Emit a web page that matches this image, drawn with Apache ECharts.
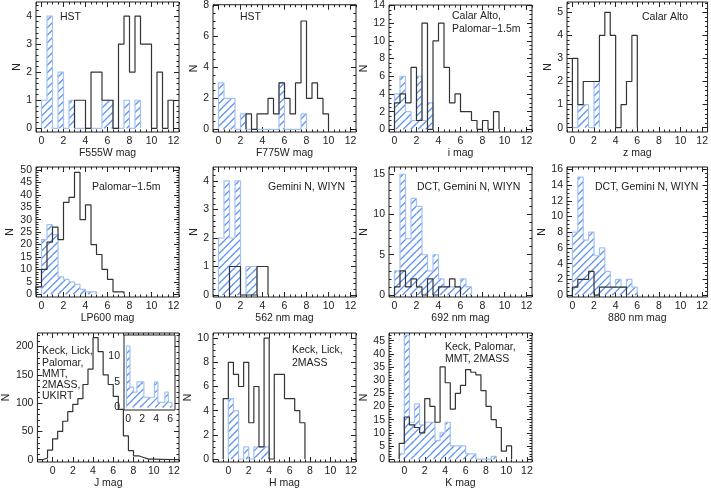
<!DOCTYPE html>
<html>
<head>
<meta charset="utf-8">
<script src="https://cdn.jsdelivr.net/npm/echarts@6/dist/echarts.min.js"></script>
<style>
  html, body { margin: 0; padding: 0; background: #fff; }
  #chart { width: 711px; height: 490px; }
</style>
</head>
<body>
<div id="chart"></div>
<script>
// Histograms, bin width 0.5 mag. Each series: first bin's left edge + counts.
const binWidth = 0.5

const f555wBlackStart = 3.0
const f555wBlack = [1, 1, 0, 2, 2, 1, 1, 0, 3, 4, 2, 4, 3, 3, 0, 2, 0, 1]
const f555wBlueStart = 0
const f555wBlue = [1, 4, 0, 2, 0, 1, 0, 0, 0, 0, 0, 1, 1, 0, 0, 1, 0, 1]

const f775wBlackStart = 2.5
const f775wBlack = [1, 0, 1, 1, 2, 1, 3, 2, 1, 3, 7, 2, 3, 2, 1]
const f775wBlueStart = 0
const f775wBlue = [3, 2, 2, 0, 1, 0, 0, 0, 0, 0, 0, 3, 0, 0, 0, 1]

const iBlackStart = 0
const iBlack = [3, 4, 3, 7, 1, 12, 0, 10, 12, 7, 3, 4, 2, 2, 1, 0, 1, 0, 2]
const iBlueStart = 0
const iBlue = [4, 6, 2, 1, 6, 1, 3]

const zBlackStart = 0
const zBlack = [3, 1, 2, 2, 2, 4, 5, 4, 0, 1, 2, 4]
const zBlueStart = 0
const zBlue = [0, 1, 1, 0, 2]

const lp600BlackStart = -0.5
const lp600Black = [3, 10, 21, 27, 22, 37, 39, 49, 30, 36, 20, 16, 10, 6, 1, 1]
const lp600BlueStart = 0
const lp600Blue = [22, 28, 24, 7, 6, 5, 4, 2, 1, 1]

const nm562BlackStart = 1.0
const nm562Black = [1, 1, 0, 0, 0, 1, 1]
const nm562BlueStart = 0
const nm562Blue = [2, 4, 2, 4, 0, 1, 1]

const nm692BlackStart = 0
const nm692Black = [1, 3, 1, 2, 1, 0, 2, 0, 1, 1, 2, 1]
const nm692BlueStart = 0
const nm692Blue = [3, 15, 7, 12, 11, 5, 3, 5, 2, 1, 1, 1, 2, 1]

const nm880BlackStart = 0
const nm880Black = [1, 2, 2, 3, 0, 1, 1, 1, 1, 1]
const nm880BlueStart = 0
const nm880Blue = [8, 15, 7, 8, 5, 6, 3, 1, 2, 1, 2, 1]

const jBlackStart = -1.0
const jBlack = [3, 17, 37, 50, 68, 85, 98, 108, 133, 160, 216, 191, 150, 133, 112, 89, 42, 16, 7, 4, 1, 1]
const jInsetBlueStart = -0.25
const jInsetBlue = [12, 4, 3, 5, 5, 2, 2, 2, 5, 1, 1, 3, 1]

const hBlackStart = -0.5
const hBlack = [5, 8, 7, 6, 8, 3, 6, 1, 10, 0, 7, 7, 5, 5, 4, 3]
const hBlueStart = 0
const hBlue = [5, 4, 0, 1, 0, 1, 1, 1]

const kBlackStart = -0.5
const kBlack = [6, 16, 13, 12, 10, 23, 20, 14, 35, 29, 19, 25, 28, 34, 33, 32, 26, 20, 15, 12, 3, 5]
const kBlueStart = -0.5
const kBlue = [2, 47, 14, 21, 13, 14, 14, 7, 10, 14, 5, 5, 5, 2, 2, 0, 0, 0, 1]

const xTicks = [0, 2, 4, 6, 8, 10, 12]
const insetXTicks = [0, 2, 4, 6]

const chartColors = {
    ink: '#222',
    black: '#333',
    blueLine: '#a3c1f5',
    blueHatch: '#5d91f2',
}
const fontFamily = '"Liberation Sans", Arial, sans-serif'
const fontSize = 10.5
const hatchStep = 7.5

const panels = [
    { xName: 'F555W mag', black: [f555wBlackStart, f555wBlack], blue: [f555wBlueStart, f555wBlue], x: [-0.5, 12.5], y: [-0.13, 4.5, 1, 5], left: 36, top: 2, nameGap: 12 },
    { xName: 'F775W mag', black: [f775wBlackStart, f775wBlack], blue: [f775wBlueStart, f775wBlue], x: [-0.5, 12.5], y: [-0.17, 8.05, 2, 4], left: 213, top: 2, nameGap: 12 },
    { xName: 'i mag', black: [iBlackStart, iBlack], blue: [iBlueStart, iBlue], x: [-0.5, 12.5], y: [-0.3, 14.05, 2, 4], left: 389, top: 2, nameGap: 18 },
    { xName: 'z mag', black: [zBlackStart, zBlack], blue: [zBlueStart, zBlue], x: [-0.5, 12.5], y: [-0.19, 5.45, 1, 5], left: 567, top: 2, nameGap: 12 },
    { xName: 'LP600 mag', black: [lp600BlackStart, lp600Black], blue: [lp600BlueStart, lp600Blue], x: [-0.5, 12.5], y: [-1.1, 51.2, 5, 5], left: 36, top: 167, nameGap: 20 },
    { xName: '562 nm mag', black: [nm562BlackStart, nm562Black], blue: [nm562BlueStart, nm562Blue], x: [-0.5, 12.5], y: [-0.07, 4.49, 1, 5], left: 213, top: 167, nameGap: 12 },
    { xName: '692 nm mag', black: [nm692BlackStart, nm692Black], blue: [nm692BlueStart, nm692Blue], x: [-0.5, 12.5], y: [-0.25, 15.9, 5, 5], left: 389, top: 167, nameGap: 18 },
    { xName: '880 nm mag', black: [nm880BlackStart, nm880Black], blue: [nm880BlueStart, nm880Blue], x: [-0.5, 12.5], y: [-0.25, 16.3, 2, 4], left: 567, top: 167, nameGap: 18 },
    { xName: 'J mag', black: [jBlackStart, jBlack], blue: null, x: [-1.5, 12.5], y: [-4, 224, 50, 5], left: 36, top: 333, nameGap: 25, padZero: true },
    { xName: 'H mag', black: [hBlackStart, hBlack], blue: [hBlueStart, hBlue], x: [-1.5, 12.5], y: [-0.25, 10.43, 2, 4], left: 213, top: 333, nameGap: 18 },
    { xName: 'K mag', black: [kBlackStart, kBlack], blue: [kBlueStart, kBlue], x: [-1.5, 12.5], y: [-1.1, 47.9, 5, 5], left: 389, top: 333, nameGap: 18 },
]
const inset = { blue: [jInsetBlueStart, jInsetBlue], x: [-0.6, 6.7], y: [-0.5, 14.2, 5, 5], left: 124, top: 335, width: 51, height: 75 }

const notes = [
    { text: 'HST', left: 60, top: 11 },
    { text: 'HST', left: 240, top: 11 },
    { text: 'Calar Alto,\nPalomar−1.5m', left: 452, top: 10, lineHeight: 13 },
    { text: 'Calar Alto', left: 642, top: 11 },
    { text: 'Palomar−1.5m', left: 92, top: 181 },
    { text: 'Gemini N, WIYN', left: 268, top: 181 },
    { text: 'DCT, Gemini N, WIYN', left: 417, top: 181 },
    { text: 'DCT, Gemini N, WIYN', left: 595, top: 181 },
    { text: 'Keck, Lick,\nPalomar,\nMMT,\n2MASS,\nUKIRT', left: 42, top: 346, lineHeight: 11.2 },
    { text: 'Keck, Lick,\n2MASS', left: 292, top: 343, lineHeight: 13.5 },
    { text: 'Keck, Palomar,\nMMT, 2MASS', left: 445, top: 341, lineHeight: 12.3 },
]

const range = (a, b, step) => {
    const out = []
    const n = Math.floor((b - a) / step + 1e-9)
    for (let i = 0; i <= n; i++) out.push(+(a + i * step).toFixed(4))
    return out
}

// outline of a histogram, optionally padded with zero level out to the axis ends
const stepPoints = ([start, counts], x0, x1) => {
    const pts = []
    if (x0 !== undefined) pts.push([x0, 0])
    pts.push([start, 0])
    counts.forEach((c, i) => {
        const a = start + i * binWidth
        pts.push([a, c], [a + binWidth, c])
    })
    const end = start + counts.length * binWidth
    pts.push([end, 0])
    if (x1 !== undefined) pts.push([x1, 0])
    return pts
}

const binRects = ([start, counts]) =>
    counts.map((c, i) => [start + i * binWidth, start + (i + 1) * binWidth, c]).filter((b) => b[2] > 0)

// diagonal hatching clipped to each bin rectangle (pixel space)
const renderHatch = (params, api) => {
    const [x0, y0] = api.coord([api.value(0), api.value(2)])
    const [x1, y1] = api.coord([api.value(1), 0])
    const children = []
    for (let c = Math.ceil((x0 + y0) / hatchStep) * hatchStep; c <= x1 + y1; c += hatchStep) {
        const xa = Math.max(x0, c - y1)
        const xb = Math.min(x1, c - y0)
        if (xb - xa > 0.3) {
            children.push({
                type: 'line',
                shape: { x1: xa, y1: c - xa, x2: xb, y2: c - xb },
                style: { stroke: chartColors.blueHatch, lineWidth: 1.3 },
            })
        }
    }
    return { type: 'group', children }
}

const grids = []
const xAxes = []
const yAxes = []
const series = []

const tickAxis = (gi, [min, max], position, values, length, label) => ({
    type: 'value',
    gridIndex: gi,
    min,
    max,
    position,
    axisLine: { show: false, onZero: false },
    splitLine: { show: false },
    axisTick: { show: true, inside: true, length, customValues: values, lineStyle: { color: chartColors.ink, width: 1 } },
    axisLabel: label
        ? { show: true, customValues: values, margin: 4, color: chartColors.ink, fontFamily, fontSize }
        : { show: false },
})

const addPanel = (p, box, xMajor, xName, yName, nameGap) => {
    const gi = grids.length
    const isInset = !xName
    grids.push({ left: box.left, top: box.top, width: box.width, height: box.height, show: true, borderColor: chartColors.ink, borderWidth: 1, backgroundColor: '#fff', z: isInset ? 5 : 0 })
    const [yMin, yMax, yStep, yMinorN] = p.y
    const yMajor = range(0, yMax, yStep)
    const yMinor = range(0, yMax, yStep / yMinorN)
    const xMinor = range(Math.ceil(p.x[0] * 2) / 2, p.x[1], 0.5)

    const xi = xAxes.length
    const bottom = tickAxis(gi, p.x, 'bottom', xMajor, 5, true)
    if (xName) Object.assign(bottom, { name: xName, nameLocation: 'middle', nameGap: 16, nameTextStyle: { color: chartColors.ink, fontFamily, fontSize } })
    xAxes.push(bottom, tickAxis(gi, p.x, 'bottom', xMinor, 2.5), tickAxis(gi, p.x, 'top', xMajor, 5), tickAxis(gi, p.x, 'top', xMinor, 2.5))

    const yi = yAxes.length
    const left = tickAxis(gi, [yMin, yMax], 'left', yMajor, 5, true)
    if (yName) Object.assign(left, { name: yName, nameLocation: 'middle', nameGap, nameRotate: 90, nameTextStyle: { color: chartColors.ink, fontFamily, fontSize } })
    yAxes.push(left, tickAxis(gi, [yMin, yMax], 'left', yMinor, 2.5), tickAxis(gi, [yMin, yMax], 'right', yMajor, 5), tickAxis(gi, [yMin, yMax], 'right', yMinor, 2.5))

    if (p.blue) {
        series.push({
            type: 'custom',
            xAxisIndex: xi,
            yAxisIndex: yi,
            data: binRects(p.blue),
            renderItem: renderHatch,
            encode: { x: [0, 1], y: 2 },
            silent: true,
            z: isInset ? 6 : 2,
        })
        series.push({
            type: 'line',
            xAxisIndex: xi,
            yAxisIndex: yi,
            data: stepPoints(p.blue),
            symbol: 'none',
            silent: true,
            lineStyle: { color: chartColors.blueLine, width: 1.2 },
            z: isInset ? 6 : 2,
        })
    }
    if (p.black) {
        series.push({
            type: 'line',
            xAxisIndex: xi,
            yAxisIndex: yi,
            data: p.padZero ? stepPoints(p.black, p.x[0], p.x[1]) : stepPoints(p.black),
            symbol: 'none',
            silent: true,
            lineStyle: { color: chartColors.black, width: 1.2 },
            z: 3,
        })
    }
}

panels.forEach((p) => addPanel(p, { left: p.left, top: p.top, width: 143, height: 130 }, xTicks, p.xName, 'N', p.nameGap))
addPanel(inset, inset, insetXTicks, null, null, 0)

const chart = echarts.init(document.getElementById('chart'), null, { renderer: 'canvas' })
chart.setOption({
    animation: false,
    backgroundColor: '#fff',
    textStyle: { fontFamily, color: chartColors.ink },
    grid: grids,
    xAxis: xAxes,
    yAxis: yAxes,
    series,
    graphic: notes.map((n) => ({
        type: 'text',
        left: n.left,
        top: n.top,
        z: 10,
        style: {
            text: n.text,
            fill: chartColors.ink,
            font: `${fontSize}px ${fontFamily}`,
            lineHeight: n.lineHeight || 13,
        },
    })),
})
</script>
</body>
</html>
